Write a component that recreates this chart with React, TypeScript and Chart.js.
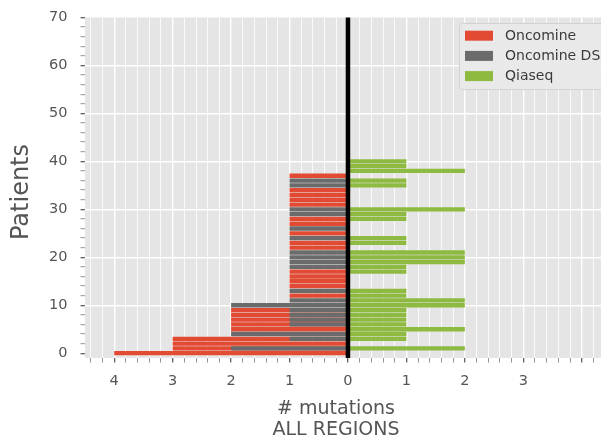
import React, { useEffect, useRef } from 'react';
import { Chart, registerables } from 'chart.js';

Chart.register(...registerables);

// Patient index (row) for every bar
const patients = [0, 1, 2, 3, 4, 5, 6, 7, 8, 9, 10, 11, 12, 13, 14, 15, 16, 17, 18, 19, 20, 21, 22, 23, 24, 25, 26, 27, 28, 29, 30, 31, 32, 33, 34, 35, 36, 37, 38, 39, 40];
// # mutations per patient (drawn to the left of 0)
const oncomine = [4, 3, 3, 3, 0, 2, 2, 2, 2, 2, 0, 0, 1, 0, 1, 1, 1, 1, 0, 0, 0, 0, 1, 1, 0, 1, 0, 1, 1, 0, 0, 1, 1, 1, 1, 0, 0, 1, 0, 0, 0];
const oncomineDS = [0, 2, 0, 1, 2, 0, 1, 1, 1, 1, 2, 1, 0, 1, 0, 0, 0, 0, 1, 1, 1, 1, 0, 0, 1, 0, 1, 0, 0, 1, 1, 0, 0, 0, 0, 1, 1, 0, 0, 0, 0];
// # mutations per patient (drawn to the right of 0)
const qiaseq = [0, 2, 0, 1, 1, 2, 1, 1, 1, 1, 2, 2, 1, 1, 0, 0, 0, 1, 1, 2, 2, 2, 0, 1, 1, 0, 0, 0, 1, 1, 2, 0, 0, 0, 0, 1, 1, 0, 2, 1, 1];

const seriesNames = ['Oncomine', 'Oncomine DS', 'Qiaseq'];
const seriesColors = ['#E24A33', '#6B6B6B', '#8EBA42'];

// labelled x ticks (absolute counts, no label at +4)
const xTickLabels: Record<string, string> = { '-4': '4', '-3': '3', '-2': '2', '-1': '1', '0': '0', '1': '1', '2': '2', '3': '3' };

const xTitleLines = ['# mutations', 'ALL REGIONS'];
const yTitle = 'Patients';

const X_MIN = -4.5;
const X_MAX = 4.33;
const Y_MIN = -1;
const Y_MAX = 70;

const FONT = "'DejaVu Sans', sans-serif";

const isInt = (v: number) => Math.abs(v - Math.round(v)) < 1e-6;

export default function App() {
  const ref = useRef<HTMLCanvasElement | null>(null);

  useEffect(() => {
    if (!ref.current) return;

    const deco = {
      id: 'deco',
      beforeDraw(chart: any) {
        const { ctx, chartArea: a } = chart;
        ctx.save();
        ctx.fillStyle = '#E5E5E5';
        ctx.fillRect(a.left, a.top, a.right - a.left, a.bottom - a.top);
        ctx.restore();
      },
      afterDatasetsDraw(chart: any) {
        const { ctx, chartArea: a } = chart;
        const xs = chart.scales.x;
        ctx.save();
        // zero line
        const x0 = xs.getPixelForValue(0);
        ctx.strokeStyle = '#000000';
        ctx.lineWidth = 4.5;
        ctx.beginPath();
        ctx.moveTo(x0, a.top);
        ctx.lineTo(x0, a.bottom);
        ctx.stroke();

        // legend
        const lx = 459.5, ly = 23.5, lw = 150, lh = 66, r = 3;
        ctx.beginPath();
        ctx.moveTo(lx + r, ly);
        ctx.lineTo(lx + lw - r, ly);
        ctx.quadraticCurveTo(lx + lw, ly, lx + lw, ly + r);
        ctx.lineTo(lx + lw, ly + lh - r);
        ctx.quadraticCurveTo(lx + lw, ly + lh, lx + lw - r, ly + lh);
        ctx.lineTo(lx + r, ly + lh);
        ctx.quadraticCurveTo(lx, ly + lh, lx, ly + lh - r);
        ctx.lineTo(lx, ly + r);
        ctx.quadraticCurveTo(lx, ly, lx + r, ly);
        ctx.closePath();
        ctx.fillStyle = 'rgba(233,233,233,0.96)';
        ctx.fill();
        ctx.strokeStyle = '#D2D2D2';
        ctx.lineWidth = 1;
        ctx.stroke();
        ctx.font = `14px ${FONT}`;
        ctx.textBaseline = 'middle';
        ctx.textAlign = 'left';
        seriesNames.forEach((name, i) => {
          const cy = 35.7 + i * 20.2;
          ctx.fillStyle = seriesColors[i];
          ctx.fillRect(465, cy - 5, 28, 10);
          ctx.fillStyle = '#3A3A3A';
          ctx.fillText(name, 505, cy + 0.5);
        });

        // axis titles
        ctx.fillStyle = '#555555';
        ctx.textAlign = 'center';
        ctx.font = `19px ${FONT}`;
        ctx.fillText(xTitleLines[0], 336, 409);
        ctx.fillText(xTitleLines[1], 336, 430);
        ctx.translate(22, 192);
        ctx.rotate(-Math.PI / 2);
        ctx.font = `24px ${FONT}`;
        ctx.fillText(yTitle, 0, 0);
        ctx.restore();
      },
    };

    const chart = new Chart(ref.current, {
      type: 'bar',
      data: {
        datasets: [
          {
            label: seriesNames[0],
            data: patients.map((p, i) => ({ x: -oncomine[i], y: p })),
            backgroundColor: seriesColors[0],
            order: 2,
          },
          {
            label: seriesNames[1],
            data: patients.map((p, i) => ({ x: -oncomineDS[i], y: p })),
            backgroundColor: seriesColors[1],
            order: 1,
          },
          {
            label: seriesNames[2],
            data: patients.map((p, i) => ({ x: qiaseq[i], y: p })),
            backgroundColor: seriesColors[2],
            order: 3,
          },
        ] as any,
      },
      options: {
        indexAxis: 'y',
        animation: false,
        responsive: true,
        maintainAspectRatio: false,
        layout: { padding: { top: 17.5, right: 0, bottom: 0, left: 0 } },
        datasets: {
          bar: {
            grouped: false,
            barPercentage: 0.9,
            categoryPercentage: 1,
            borderWidth: 0,
          },
        } as any,
        plugins: {
          legend: { display: false },
          tooltip: { enabled: false },
        },
        scales: {
          x: {
            type: 'linear',
            min: X_MIN,
            max: X_MAX,
            offset: false,
            border: { display: false },
            afterFit: (s: any) => {
              s.height = 83;
              s.paddingLeft = 0;
              s.paddingRight = 0;
            },
            ticks: {
              stepSize: 0.2,
              includeBounds: false,
              autoSkip: false,
              maxRotation: 0,
              minRotation: 0,
              padding: 10,
              color: '#555555',
              font: { family: FONT, size: 14.5 },
              callback: (v: any) => {
                const n = Number(v);
                if (!isInt(n)) return '';
                const k = String(Math.round(n));
                return xTickLabels[k] !== undefined ? xTickLabels[k] : '';
              },
            },
            grid: {
              offset: false,
              drawTicks: true,
              tickLength: 4.5,
              color: '#FFFFFF',
              lineWidth: (c: any) => {
                const v = c.tick ? c.tick.value : 0;
                return isInt(v) ? 1.4 : 0.8;
              },
              tickColor: (c: any) => {
                const v = c.tick ? c.tick.value : 0;
                return isInt(v) ? '#555555' : '#777777';
              },
              tickWidth: (c: any) => {
                const v = c.tick ? c.tick.value : 0;
                return isInt(v) ? 1.2 : 0.8;
              },
            } as any,
          },
          y: {
            type: 'linear',
            min: Y_MIN,
            max: Y_MAX,
            offset: false,
            border: { display: false },
            afterFit: (s: any) => {
              s.width = 85;
              s.paddingTop = 0;
              s.paddingBottom = 0;
            },
            ticks: {
              stepSize: 2,
              includeBounds: false,
              autoSkip: false,
              padding: 13,
              color: '#555555',
              font: { family: FONT, size: 14.5 },
              callback: (v: any) => {
                const n = Math.round(Number(v));
                return n % 10 === 0 ? String(n) : '';
              },
            },
            grid: {
              offset: false,
              drawTicks: true,
              tickLength: 4.5,
              color: (c: any) => {
                const v = c.tick ? Math.round(c.tick.value) : 0;
                return v > 0 && v < Y_MAX && v % 10 === 0 ? '#FFFFFF' : 'rgba(0,0,0,0)';
              },
              lineWidth: 1.4,
              tickColor: (c: any) => {
                const v = c.tick ? Math.round(c.tick.value) : 0;
                return v % 10 === 0 ? '#555555' : '#777777';
              },
              tickWidth: (c: any) => {
                const v = c.tick ? Math.round(c.tick.value) : 0;
                return v % 10 === 0 ? 1.2 : 0.8;
              },
            } as any,
          },
        },
      },
      plugins: [deco],
    });

    return () => chart.destroy();
  }, []);

  return (
    <div style={{ position: 'fixed', left: 0, top: 0, width: 601, height: 441, background: '#FFFFFF' }}>
      <canvas ref={ref} />
    </div>
  );
}
